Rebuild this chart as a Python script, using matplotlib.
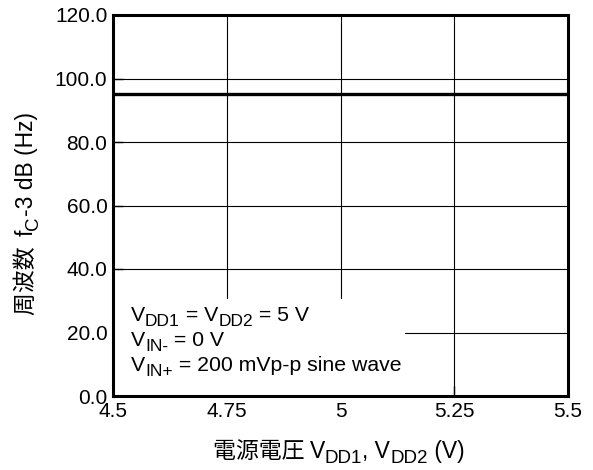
import matplotlib
matplotlib.use("Agg")
import matplotlib.pyplot as plt
from matplotlib.patches import Rectangle

plt.rcParams['font.family'] = ['Liberation Sans', 'Noto Sans CJK JP', 'DejaVu Sans']

# 電源電圧 vs カットオフ周波数
vdd = [4.5, 5.5]
fc = [95.0, 95.0]

x_ticks = [4.5, 4.75, 5.0, 5.25, 5.5]
x_labels = ['4.5', '4.75', '5', '5.25', '5.5']
y_ticks = [0, 20, 40, 60, 80, 100, 120]
y_labels = ['0.0', '20.0', '40.0', '60.0', '80.0', '100.0', '120.0']

# (文字列, 添字かどうか)
cond_lines = [
    [('V', 0), ('DD1', 1), (' = V', 0), ('DD2', 1), (' = 5 V', 0)],
    [('V', 0), ('IN-', 1), (' = 0 V', 0)],
    [('V', 0), ('IN+', 1), (' = 200 mVp-p sine wave', 0)],
]
xlabel_parts = [('電源電圧 ', 0), ('V', 0), ('DD1', 1), (', V', 0), ('DD2', 1), (' (V)', 0)]
ylabel_parts = [('周波数  ', 0), ('f', 0), ('C', 1), ('-3 dB (Hz)', 0)]

W, H = 593, 470
FS = 15
JP = 'Noto Sans CJK JP'


def rich_text(fig, x, y, parts, size=FS, sub_size=12.5, jp_size=16.5,
              sub_dy=-3.5, rotation=0):
    # x, y はベースライン開始点(ピクセル、上原点)
    fx, fy = x / W, 1 - y / H
    prev = None
    for s, sub in parts:
        fs = sub_size if sub else size
        dy = sub_dy if sub else 0
        kw = dict(fontsize=fs, ha='left', va='baseline', rotation=rotation,
                  rotation_mode='anchor', annotation_clip=False, zorder=5)
        if any(ord(c) > 0x3000 for c in s):
            kw['family'] = [JP, 'Liberation Sans']
            kw['fontsize'] = jp_size
        if prev is None:
            xy, xyc = (fx, fy), 'figure fraction'
        elif rotation == 0:
            xy, xyc = (1, fy), (prev, 'figure fraction')
        else:
            xy, xyc = (fx, 1), ('figure fraction', prev)
        off = (0, dy) if rotation == 0 else (-dy, 0)
        prev = fig.add_artist(plt.Annotation(s, xy=xy, xycoords=xyc, xytext=off,
                                             textcoords='offset points', **kw))
    return prev


fig = plt.figure(figsize=(W / 100, H / 100), dpi=100)
ax = fig.add_axes([113 / W, 1 - 396 / H, (568 - 113) / W, (396 - 15) / H])

ax.set_xlim(4.5, 5.5)
ax.set_ylim(0, 120)
ax.set_xticks(x_ticks)
ax.set_xticklabels(x_labels)
ax.set_yticks(y_ticks)
ax.set_yticklabels(y_labels)
ax.tick_params(direction='in', length=7, width=1, labelsize=FS, color='black')
ax.tick_params(axis='x', pad=4)
ax.tick_params(axis='y', pad=4)
ax.grid(True, color='black', linewidth=0.8, zorder=1)
ax.set_axisbelow(True)
for sp in ax.spines.values():
    sp.set_linewidth(2.2)

ax.plot(vdd, fc, color='black', linewidth=2.4, zorder=3)

# 条件表示の白い枠
ax.add_patch(Rectangle((0, 0), (405 - 113) / 455, (396 - 299) / 381, transform=ax.transAxes,
                       facecolor='white', edgecolor='none', zorder=2))
for i, parts in enumerate(cond_lines):
    rich_text(fig, 131, 321 + i * 25, parts, size=15.3)

rich_text(fig, 213, 458, xlabel_parts, size=16.5, sub_size=13.5)
rich_text(fig, 33, 315, ylabel_parts, size=16.5, sub_size=13.5, rotation=90)

fig.savefig('out.png', dpi=100)
